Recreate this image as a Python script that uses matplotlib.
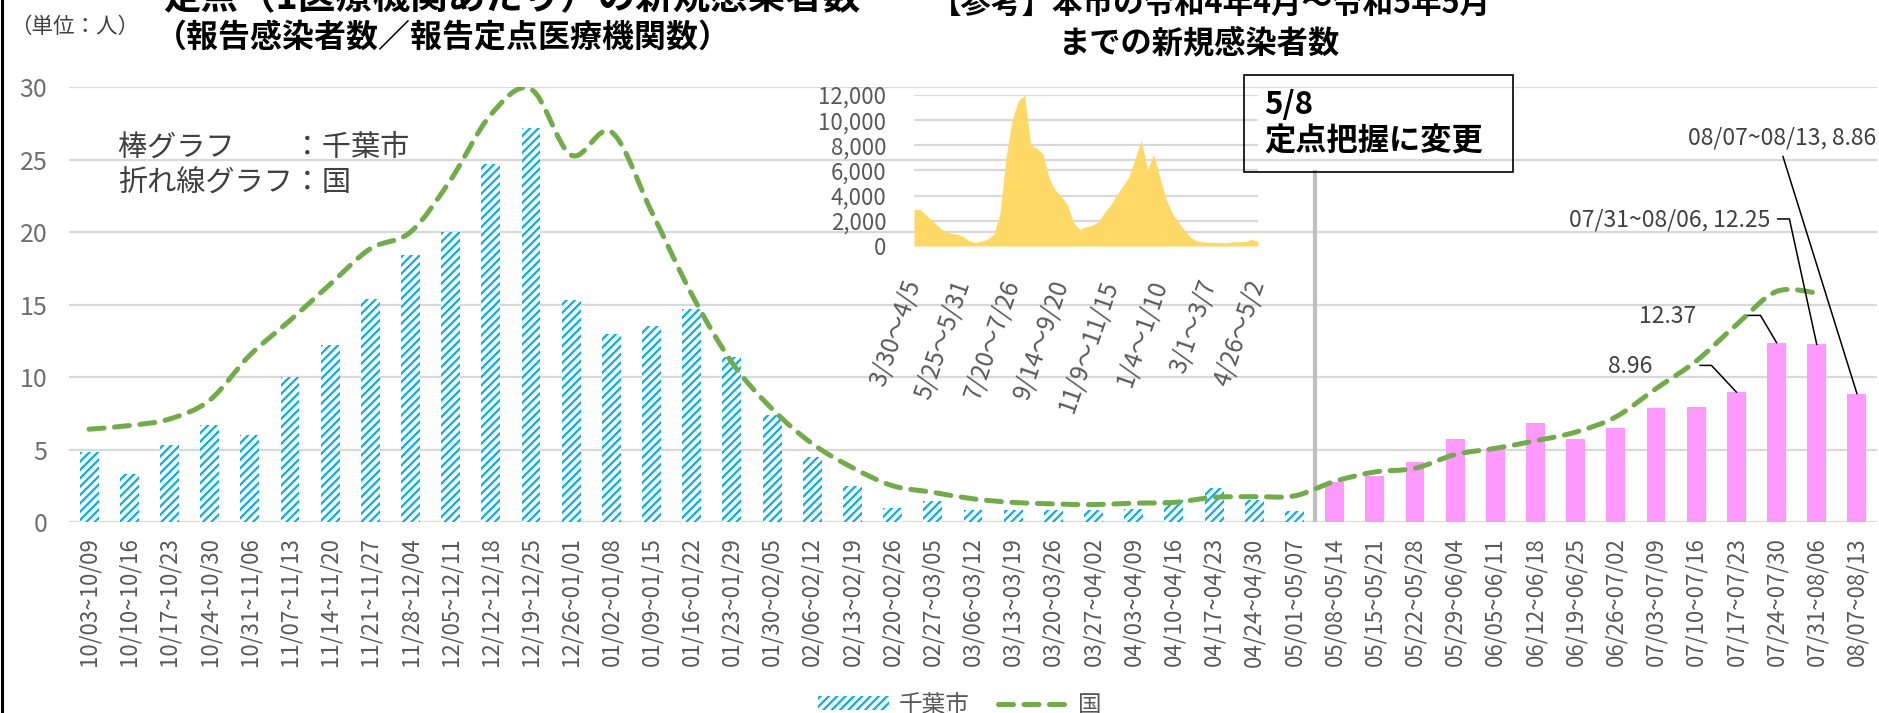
import matplotlib
matplotlib.use("Agg")
import matplotlib.pyplot as plt
from matplotlib.patches import Rectangle, Patch, PathPatch
from matplotlib.lines import Line2D
from matplotlib.path import Path

plt.rcParams['font.family'] = ['Noto Sans CJK JP', 'DejaVu Sans']
plt.rcParams['hatch.linewidth'] = 1.6
plt.rcParams['hatch.color'] = '#00B0F0'

# ---------------- data ----------------
weeks = ["10/03~10/09", "10/10~10/16", "10/17~10/23", "10/24~10/30", "10/31~11/06",
         "11/07~11/13", "11/14~11/20", "11/21~11/27", "11/28~12/04", "12/05~12/11",
         "12/12~12/18", "12/19~12/25", "12/26~01/01", "01/02~01/08", "01/09~01/15",
         "01/16~01/22", "01/23~01/29", "01/30~02/05", "02/06~02/12", "02/13~02/19",
         "02/20~02/26", "02/27~03/05", "03/06~03/12", "03/13~03/19", "03/20~03/26",
         "03/27~04/02", "04/03~04/09", "04/10~04/16", "04/17~04/23", "04/24~04/30",
         "05/01~05/07",
         "05/08~05/14", "05/15~05/21", "05/22~05/28", "05/29~06/04", "06/05~06/11",
         "06/12~06/18", "06/19~06/25", "06/26~07/02", "07/03~07/09", "07/10~07/16",
         "07/17~07/23", "07/24~07/30", "07/31~08/06", "08/07~08/13"]

# 千葉市 (before 5/8: hatched blue)
chiba_before = [4.85, 3.3, 5.3, 6.7, 6.0, 10.0, 12.2, 15.4, 18.4, 20.0,
                24.7, 27.15, 15.3, 13.0, 13.5, 14.7, 11.4, 7.4, 4.5, 2.5,
                1.0, 1.45, 0.8, 0.85, 0.8, 0.8, 0.9, 1.5, 2.35, 1.55, 0.75]
# 千葉市 (from 5/8: pink, 定点把握)
chiba_after = [2.78, 3.2, 4.12, 5.7, 5.07, 6.86, 5.7, 6.5, 7.84, 7.92,
               8.96, 12.37, 12.25, 8.86]
# 国
national = [6.4, 6.65, 7.1, 8.4, 11.5, 13.9, 16.4, 18.85, 20.0, 23.6,
            28.1, 29.85, 25.3, 26.9, 21.4, 15.7, 11.0, 7.8, 5.4, 3.75,
            2.5, 2.05, 1.6, 1.35, 1.25, 1.2, 1.3, 1.35, 1.7, 1.75,
            1.8, 2.8, 3.45, 3.7, 4.65, 5.08, 5.6, 6.2, 7.25, 9.2,
            11.1, 13.6, 15.9, 15.8]

# inset: 本市の新規感染者数 (weekly, R4/4 ~ R5/5)
inset_vals = [2900, 2900, 2460, 2010, 1540, 1140, 1000, 950, 740, 420,
              290, 400, 560, 930, 2600, 7100, 10070, 11550, 12000, 8030,
              7760, 7310, 5380, 4450, 3920, 3260, 1800, 1320, 1540, 1640,
              1930, 2650, 3260, 4050, 4770, 5510, 6970, 8400, 6040, 7310,
              5510, 3790, 2650, 1930, 1270, 690, 420, 320, 290, 290,
              265, 265, 340, 340, 370, 530, 340]
inset_labels = ["3/30～4/5", "5/25～5/31", "7/20～7/26", "9/14～9/20",
                "11/9～11/15", "1/4～1/10", "3/1～3/7", "4/26～5/2"]

# ---------------- figure ----------------
W, H = 1879, 713
fig = plt.figure(figsize=(W / 100, H / 100), dpi=100)


def fx(px):
    return px / W


def fy(py):
    return 1 - py / H


BLUE = '#00B0F0'
PINK = '#FF99FF'
GREEN = '#70AD47'
GRID = '#D9D9D9'
TXT = '#404040'
TICK = '#595959'
DASH = (0, (3.0, 2.1))

ax = fig.add_axes([fx(69), fy(522), fx(1877) - fx(69), (522 - 87) / H])
n_before = len(chiba_before)
x_before = list(range(n_before))
x_after = list(range(n_before, n_before + len(chiba_after)))
x_nat = list(range(len(national)))

ax.bar(x_before, chiba_before, width=0.47, facecolor='white', edgecolor=BLUE,
       hatch='////', linewidth=0, zorder=2)
ax.bar(x_after, chiba_after, width=0.47, color=PINK, linewidth=0, zorder=2)


def smooth_path(xs, ys):
    """Smoothed line through the data points (cubic Bezier segments, like a
    spreadsheet 'smoothed line')."""
    pts = list(zip(xs, ys))
    verts = [pts[0]]
    codes = [Path.MOVETO]
    n = len(pts)
    for i in range(n - 1):
        p0 = pts[i - 1] if i > 0 else pts[i]
        p1 = pts[i]
        p2 = pts[i + 1]
        p3 = pts[i + 2] if i + 2 < n else pts[i + 1]
        c1 = (p1[0] + (p2[0] - p0[0]) / 6, p1[1] + (p2[1] - p0[1]) / 6)
        c2 = (p2[0] - (p3[0] - p1[0]) / 6, p2[1] - (p3[1] - p1[1]) / 6)
        verts += [c1, c2, p2]
        codes += [Path.CURVE4] * 3
    return Path(verts, codes)


line_patch = PathPatch(smooth_path(x_nat, national), fill=False, edgecolor=GREEN,
                       lw=3.6, linestyle=DASH, zorder=4)
line_patch.set_capstyle('round')
ax.add_patch(line_patch)

ax.set_xlim(-0.5, len(weeks) - 0.5)
ax.set_ylim(0, 30)
ax.set_yticks(range(0, 31, 5))
ax.set_xticks(range(len(weeks)))
ax.set_xticklabels(weeks, rotation=90, fontsize=16, color=TICK)
for lab in ax.get_yticklabels():
    lab.set_fontsize(18)
    lab.set_color('#6f6f6f')
ax.tick_params(axis='both', length=0)
ax.tick_params(axis='y', pad=15.5)
ax.tick_params(axis='x', pad=11)
for s in ax.spines.values():
    s.set_visible(False)
ax.yaxis.grid(True, color=GRID, lw=1.6)
ax.set_axisbelow(True)

# 5/8 separator
ax.axvline(n_before - 0.5, ymin=0, ymax=(522 - 172) / 435, color='#BFBFBF',
           lw=3, zorder=1.5)

# data labels with leader lines
lw_lead = 1.1
i17, i24, i31, i07 = 41, 42, 43, 44
v17 = chiba_after[i17 - n_before]
v24 = chiba_after[i24 - n_before]
v31 = chiba_after[i31 - n_before]
v07 = chiba_after[i07 - n_before]
ax.text(38.35, 10.75, f"{v17:.2f}", ha='center', va='center', fontsize=16.5, color=TXT)
ax.plot([40.1, 40.38, i17], [10.8, 10.8, v17], color='black', lw=lw_lead, zorder=5)
ax.text(39.3, 14.15, f"{v24:.2f}", ha='center', va='center', fontsize=16.5, color=TXT)
ax.plot([41.29, 41.6, i24], [14.25, 14.25, v24], color='black', lw=lw_lead, zorder=5)
ax.text(41.85, 20.8, f"{weeks[i31]}, {v31:.2f}", ha='right', va='center',
        fontsize=16.5, color=TXT)
ax.plot([42.03, 42.32, i31], [20.9, 20.9, v31], color='black', lw=lw_lead, zorder=5)
ax.text(44.47, 26.45, f"{weeks[i07]}, {v07:.2f}", ha='right', va='center',
        fontsize=16.5, color=TXT)
ax.plot([42.16, i07], [25.2, v07], color='black', lw=lw_lead, zorder=5)

# inset
axin = fig.add_axes([fx(914), fy(246), (1258 - 914) / W, (246 - 95) / H])
axin.patch.set_alpha(0)
xi = list(range(len(inset_vals)))
axin.fill_between(xi, inset_vals, 0, color='#FFD966', lw=0, zorder=2)
axin.set_xlim(0, len(inset_vals) - 1)
axin.set_ylim(0, 12000)
axin.set_yticks(range(0, 12001, 2000))
axin.set_yticklabels([f"{v:,}" for v in range(0, 12001, 2000)], fontsize=16, color=TICK)
axin.set_xticks(list(range(0, len(inset_vals), 8)))
axin.set_xticklabels(inset_labels, rotation=71, ha='right', va='center',
                     rotation_mode='anchor', fontsize=17.5, color=TICK)
axin.tick_params(axis='both', length=0)
axin.tick_params(axis='y', pad=20)
axin.tick_params(axis='x', pad=25)
for s in axin.spines.values():
    s.set_visible(False)
axin.yaxis.grid(True, color=GRID, lw=1.6)
axin.set_axisbelow(True)

# titles and texts
fig.text(fx(512), fy(-2), '定点（1医療機関あたり）の新規感染者数', fontsize=27,
         weight='bold', ha='center', va='center')
fig.text(fx(443), fy(37), '（報告感染者数／報告定点医療機関数）', fontsize=23,
         weight='bold', ha='center', va='center')
fig.text(fx(1211), fy(4), '【参考】本市の令和4年4月～令和5年5月', fontsize=22,
         weight='bold', ha='center', va='center')
fig.text(fx(1200), fy(43), 'までの新規感染者数', fontsize=22.5,
         weight='bold', ha='center', va='center')
fig.text(fx(10), fy(27), '（単位：人）', fontsize=15.5, color=TXT, va='center', ha='left')
fig.text(fx(118), fy(148), '棒グラフ　　：千葉市', fontsize=21, color=TXT,
         va='center', ha='left')
fig.text(fx(118), fy(184), '折れ線グラフ：国', fontsize=21, color=TXT,
         va='center', ha='left')

# 5/8 box
fig.add_artist(Rectangle((fx(1244), fy(172)), (1513 - 1244) / W, (172 - 75) / H,
                         transform=fig.transFigure, facecolor='none',
                         edgecolor='black', lw=1.2))
fig.text(fx(1264), fy(105), '5/8', fontsize=22.5, weight='bold', va='center', ha='left')
fig.text(fx(1264), fy(142), '定点把握に変更', fontsize=22.5, weight='bold',
         va='center', ha='left')

# left frame border
fig.add_artist(Line2D([fx(1.5), fx(1.5)], [0, 1], transform=fig.transFigure,
                      color='black', lw=2.2))

# legend
handles = [Patch(facecolor='white', edgecolor=BLUE, hatch='////', lw=0),
           Line2D([0], [0], color=GREEN, lw=3.6, linestyle=DASH,
                  dash_capstyle='round')]
leg = fig.legend(handles, ['千葉市', '国'], loc='center',
                 bbox_to_anchor=(fx(960), fy(705)), ncol=2, frameon=False,
                 fontsize=17, handlelength=3.0, handleheight=0.55,
                 columnspacing=1.2, handletextpad=0.4)
for t in leg.get_texts():
    t.set_color(TICK)

fig.savefig('out.png', dpi=100)
